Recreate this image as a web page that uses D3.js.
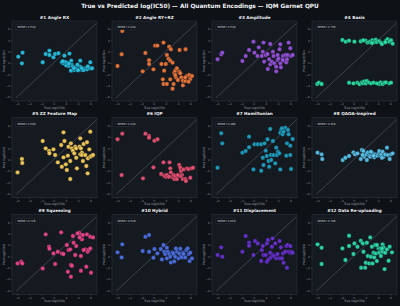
<!DOCTYPE html>
<html>
<head>
<meta charset="utf-8">
<script src="https://cdn.jsdelivr.net/npm/d3@7"></script>
<style>
  html, body { margin: 0; padding: 0; background: #0e1116; }
  svg { display: block; font-family: "DejaVu Sans", sans-serif; }
</style>
</head>
<body>
<svg id="chart" width="400" height="306"></svg>
<script>
// panel titles, colours and RMSE labels
const titles = ["#1 Angle RX", "#2 Angle RY+RZ", "#3 Amplitude", "#4 Basis",
  "#5 ZZ Feature Map", "#6 IQP", "#7 Hamiltonian", "#8 QAOA-inspired",
  "#9 Squeezing", "#10 Hybrid", "#11 Displacement", "#12 Data Re-uploading"];
const colors = ["#29c6e8", "#f27a3c", "#9b55e0", "#2ee6a8",
  "#fdd35c", "#ef5475", "#22a3c4", "#5cc8ef",
  "#f0468f", "#4f73e8", "#6d32d6", "#2fe0b0"];
const rmse = ["4.524", "4.004", "3.543", "4.755", "3.594", "4.200",
  "3.484", "3.354", "3.725", "3.519", "3.653", "3.795"];
const xTicks = [-6, -4, -2, 0, 2, 4, 6];
const yTicks = [-6, -4, -2, 0, 2, 4, 6];

// [true, predicted] log(IC50) per encoding
const p1 = [[-5.78,1.12],[-5.07,1.82],[-5.18,-0.06],[-1.78,0.12],[-1.29,1.59],[-0.68,2.18],[-0.68,1.41],[-0.02,1.0],
  [0.25,1.59],[0.8,1.71],[1.78,1.29],[2.6,1.65],[1.35,0.12],[1.62,-0.06],[2.17,0.06],[2.88,0.41],[2.99,-0.35],
  [3.16,-0.65],[3.54,-0.76],[3.38,-1.24],[3.7,-1.0],[4.36,0.41],[4.36,-0.65],[4.64,-1.24],[5.18,-0.94],[5.46,-1.12],
  [6.0,0.12],[5.9,-0.94],[6.28,-0.94],[4.9,-1.24],[4.09,-1.12],[2.44,-0.53],[2.06,-0.41],[2.83,-1.35],[3.9,-0.3],
  [1.9,0.2],[2.5,-0.1],[3.3,-0.9],[4.6,-0.9],[5.6,-0.6],[4.0,-1.3],[1.5,0.3]];
const p2 = [[-5.12,5.65],[-5.23,1.53],[-5.9,-0.53],[-1.78,-1.47],[-1.34,1.76],[-0.74,0.47],[-0.74,-0.18],[-0.02,-1.12],
  [0.25,3.06],[0.63,3.06],[1.62,3.59],[1.29,-0.18],[1.73,-1.35],[2.0,-0.18],[2.17,1.41],[2.55,2.88],[2.83,2.41],
  [2.44,0.76],[2.72,0.41],[3.1,0.06],[3.38,-1.71],[3.54,-1.35],[3.81,-0.94],[4.25,2.29],[5.23,2.41],[1.51,-2.88],
  [1.62,-3.7],[2.17,-3.7],[2.72,-2.88],[3.1,-4.53],[3.27,-3.7],[3.65,-2.53],[4.2,-1.53],[4.36,-1.82],[4.53,-2.53],
  [4.8,-3.12],[4.8,-3.94],[5.23,-3.18],[5.46,-2.29],[5.84,-2.12],[6.0,-2.82],[6.28,-2.29],[5.73,-3.29],[3.98,-3.0],
  [3.54,-2.12],[5.18,-2.53]];
const p3 = [[-5.89,0.65],[-5.29,1.53],[-5.12,1.82],[-1.83,0.35],[-1.29,1.24],[-0.74,2.29],[-0.02,3.76],[0.14,1.82],
  [0.63,1.24],[0.85,2.76],[1.35,1.24],[1.51,2.0],[1.62,3.59],[1.73,0.24],[2.0,1.41],[2.28,1.59],[2.55,0.65],[2.72,3.35],
  [2.72,-0.24],[2.99,0.24],[3.16,2.0],[3.27,1.24],[3.38,-0.06],[3.7,-0.65],[3.7,-1.47],[3.92,0.53],[4.09,0.82],
  [4.36,3.29],[4.25,2.41],[4.36,-0.06],[4.47,-0.76],[4.8,1.24],[4.91,0.41],[5.18,1.41],[5.35,0.12],[5.57,1.41],
  [5.73,3.59],[6.0,2.59],[6.12,1.24],[6.39,1.41],[2.33,-1.06],[4.75,0.53],[5.46,0.65],[3.92,1.41]];
const p4 = [[-1.83,4.06],[-1.29,3.76],[-0.74,3.94],[0.14,3.76],[1.18,3.82],[2.0,3.94],[2.28,3.59],[2.55,3.71],
  [2.83,3.82],[3.1,4.0],[3.38,3.71],[3.65,4.12],[3.81,3.71],[4.2,3.82],[4.47,3.59],[4.64,3.35],[5.29,3.94],[5.57,4.18],
  [5.84,3.76],[6.12,4.0],[6.39,3.41],[1.57,4.0],[3.0,3.53],[5.18,3.65],
  [-5.95,-3.71],[-5.67,-3.47],[-5.23,-3.71],[-0.74,-3.47],[-0.02,-3.59],[0.63,-3.47],[0.96,-3.71],[1.35,-3.41],
  [1.51,-3.59],[1.73,-3.24],[2.0,-3.59],[2.17,-3.18],[2.55,-3.47],[2.88,-3.59],[3.27,-3.47],[4.2,-3.71],[4.42,-3.41],
  [4.75,-3.71],[5.02,-3.47],[5.29,-3.41],[5.84,-3.59],[6.12,-3.47],[3.81,-3.59]];
const p5 = [[-5.89,-2.24],[-5.18,0.12],[-5.12,-0.59],[-1.78,3.29],[-1.29,2.0],[-0.74,1.53],[-0.68,1.12],[-0.02,1.82],
  [0.25,0.82],[0.69,-0.47],[1.24,2.59],[1.35,-1.24],[1.62,4.82],[1.62,0.41],[1.78,3.29],[2.0,-0.82],[2.17,-1.82],
  [2.33,0.71],[2.44,2.29],[2.72,-0.24],[2.72,-3.41],[2.83,2.88],[2.99,2.0],[3.16,1.59],[3.38,1.12],[3.54,2.29],
  [3.7,2.0],[3.7,0.35],[3.81,-1.53],[4.25,2.29],[4.36,3.76],[4.36,0.94],[4.47,2.0],[4.64,1.24],[4.64,0.82],[4.8,-0.24],
  [4.91,2.76],[5.18,0.82],[5.35,-1.12],[5.46,3.06],[5.57,-2.41],[5.62,0.24],[5.84,1.82],[6.0,0.53],[6.0,4.94],
  [6.17,0.65],[6.45,0.82]];
const p6 = [[-5.89,3.59],[-5.12,4.59],[-5.23,-2.71],[-1.34,4.59],[-0.74,4.18],[-0.74,3.88],[0.14,3.35],[0.63,3.59],
  [-1.73,-3.29],[-0.02,-1.35],[1.24,-2.53],[1.62,-0.47],[1.73,-2.82],[2.0,-3.0],[2.17,-2.71],[2.61,-0.47],[2.72,-1.53],
  [2.83,-2.24],[3.0,-3.0],[3.27,-2.71],[3.38,-3.41],[3.54,-2.88],[3.81,-3.41],[4.2,-0.94],[4.36,-1.41],[4.47,-2.0],
  [4.64,-2.71],[4.75,-3.41],[4.91,-1.71],[5.18,-3.41],[5.29,-3.76],[5.46,-1.53],[5.73,-1.65],[6.0,-3.18],[6.17,-1.53],
  [6.45,-1.41],[4.36,-2.88],[3.98,-2.71],[2.5,-3.0]];
const p7 = [[-5.89,-1.41],[-5.29,4.65],[-5.12,2.88],[-1.83,1.24],[-1.29,1.53],[-0.74,2.18],[-0.74,4.06],[-0.02,-1.71],
  [0.14,2.71],[0.69,2.71],[1.24,2.71],[1.24,-1.94],[1.51,0.35],[1.62,-0.94],[1.78,2.88],[2.0,1.59],[2.17,0.65],
  [2.28,3.59],[2.44,-0.24],[2.55,-1.24],[2.72,5.41],[2.83,0.82],[2.88,-0.06],[3.16,3.29],[3.27,0.82],[3.54,-0.65],
  [3.7,2.12],[3.81,0.82],[3.98,1.41],[4.2,1.12],[4.36,-1.71],[4.36,4.76],[4.53,5.24],[4.75,4.47],[4.91,4.94],
  [5.18,5.65],[5.35,0.71],[5.46,2.88],[5.62,5.24],[5.73,4.47],[6.0,2.47],[6.0,0.82],[6.12,-1.65],[6.39,3.65],[4.64,5.53]];
const p8 = [[-5.89,1.24],[-5.23,0.94],[-5.12,0.12],[-1.78,-0.06],[-1.34,0.35],[-0.74,0.65],[-0.02,1.29],[0.25,0.94],
  [0.63,1.12],[1.18,0.12],[1.35,1.71],[1.62,1.53],[1.73,0.53],[2.0,0.94],[2.17,-0.06],[2.33,1.29],[2.55,0.71],
  [2.72,0.53],[3.0,0.82],[3.16,1.12],[3.38,0.41],[3.54,0.94],[3.81,0.71],[4.09,1.12],[4.2,1.53],[4.36,0.71],
  [4.53,0.94],[4.75,1.41],[4.91,0.53],[5.18,0.94],[5.46,2.12],[5.62,0.82],[5.9,0.12],[6.12,0.94],[6.39,1.12],
  [2.83,1.41],[3.27,0.71],[4.64,0.35],[1.46,0.82]];
const p9 = [[-5.89,-1.24],[-5.29,-0.94],[-5.12,-1.24],[-1.78,-2.12],[-1.29,3.88],[-0.74,1.71],[-0.68,1.35],[-0.02,0.53],
  [0.25,-1.35],[0.69,0.82],[1.24,4.24],[1.35,0.53],[1.62,0.41],[2.17,2.0],[2.33,-2.71],[2.44,1.12],[2.72,1.24],
  [2.83,-1.53],[2.99,-1.65],[2.83,-3.59],[3.16,3.59],[3.27,2.41],[3.54,0.24],[3.7,1.82],[4.2,4.18],[4.36,3.88],
  [4.47,0.06],[4.47,-2.53],[4.64,3.0],[4.8,3.76],[5.18,1.24],[5.35,-1.82],[5.46,3.88],[5.57,0.82],[5.73,1.12],
  [6.0,1.41],[6.0,3.47],[6.12,-2.88],[6.45,3.35],[3.92,4.06],[4.25,3.35],[4.91,1.12]];
const p10 = [[-5.89,0.71],[-5.23,-0.18],[-5.12,2.12],[-1.34,3.47],[-0.74,3.76],[-1.78,0.94],[-0.74,0.82],[-0.02,-0.24],
  [0.14,1.29],[0.63,0.53],[1.18,1.29],[1.35,-0.53],[1.62,2.0],[1.73,0.82],[1.89,0.41],[2.17,1.53],[2.33,0.82],
  [2.55,0.41],[2.72,-0.06],[2.83,-1.06],[3.1,0.71],[3.27,0.41],[3.38,-0.88],[3.54,-0.06],[3.81,0.82],[4.09,-0.35],
  [4.2,0.53],[4.36,1.35],[4.47,0.06],[4.64,-0.18],[4.8,0.65],[4.91,0.41],[5.18,-0.18],[5.35,1.12],[5.57,1.41],
  [5.73,0.41],[5.9,-0.82],[6.0,0.65],[6.28,-0.35],[3.65,1.41],[2.17,-0.35]];
const p11 = [[-5.89,0.24],[-5.29,1.59],[-5.12,-0.06],[-1.83,0.82],[-1.29,3.59],[-0.74,2.41],[-0.74,1.88],[-0.02,0.24],
  [0.25,2.71],[0.69,2.29],[1.24,-0.82],[1.35,1.12],[1.51,1.82],[1.62,0.24],[2.0,0.24],[2.17,2.29],[2.17,-0.94],
  [2.33,2.88],[2.44,-0.53],[2.72,0.65],[2.83,-0.18],[2.99,1.71],[3.1,3.18],[3.16,0.24],[3.38,0.06],[3.54,2.29],
  [3.7,-0.35],[3.92,0.41],[4.09,-0.35],[4.25,2.71],[4.36,-0.35],[4.47,1.59],[4.64,-0.35],[4.8,0.53],[5.18,0.82],
  [5.35,1.82],[5.46,-2.0],[5.57,2.0],[5.73,0.82],[6.0,1.82],[6.0,0.65],[6.17,0.82],[6.39,0.65],[4.91,-1.12]];
const p12 = [[-5.89,2.12],[-5.23,1.53],[-5.23,-1.35],[-1.83,1.41],[-1.34,-0.65],[-0.74,3.65],[-0.74,1.82],[-0.02,0.41],
  [0.14,2.29],[0.63,1.71],[1.18,2.76],[1.24,-2.0],[1.51,2.29],[1.62,0.82],[1.89,-2.0],[2.0,-1.12],[2.17,2.41],
  [2.33,0.06],[2.55,-1.24],[2.72,3.35],[2.83,-0.06],[3.0,1.71],[3.1,-1.24],[3.27,0.65],[3.38,-0.18],[3.54,2.0],
  [3.65,0.53],[3.81,-0.82],[4.09,1.41],[4.2,0.65],[4.36,1.41],[4.47,0.06],[4.53,1.12],[4.75,2.12],[4.75,0.82],
  [4.91,1.59],[5.07,-2.24],[5.18,0.65],[5.46,1.24],[5.73,-0.76],[5.9,1.71],[6.28,0.71],[3.81,2.0],[4.64,1.41]];
const panels = [p1, p2, p3, p4, p5, p6, p7, p8, p9, p10, p11, p12];

const svg = d3.select("#chart");
const W = 400, H = 306;
svg.append("rect").attr("width", W).attr("height", H).attr("fill", "#0e1116");

// main title
svg.append("text")
  .attr("x", 200).attr("y", 7.8)
  .attr("text-anchor", "middle")
  .attr("font-size", 5.8).attr("font-weight", "bold")
  .attr("fill", "#f3f4f6")
  .text("True vs Predicted log(IC50) \u2014 All Quantum Encodings \u2014 IQM Garnet QPU");

const pw = 85, ph = 80;
const x = d3.scaleLinear().domain([-6.8, 7.1]).range([0, pw]);
const y = d3.scaleLinear().domain([-6.7, 7.4]).range([ph, 0]);
const diag = [-6.1, 7.0];

panels.forEach((pts, i) => {
  const col = i % 4, row = Math.floor(i / 4);
  const g = svg.append("g")
    .attr("transform", `translate(${12 + col * 100}, ${21 + row * 96.7})`);

  g.append("rect")
    .attr("width", pw).attr("height", ph)
    .attr("fill", "#151a21")
    .attr("stroke", "#2c323b").attr("stroke-width", 0.6);

  // subplot title
  g.append("text")
    .attr("x", pw / 2).attr("y", -2.5)
    .attr("text-anchor", "middle")
    .attr("font-size", 4.2).attr("font-weight", "bold")
    .attr("fill", "#eef0f3")
    .text(titles[i]);

  // axes
  const xa = g.append("g").attr("transform", `translate(0, ${ph})`)
    .call(d3.axisBottom(x).tickValues(xTicks).tickSize(1.2).tickPadding(1));
  const ya = g.append("g")
    .call(d3.axisLeft(y).tickValues(yTicks).tickSize(1.2).tickPadding(1));
  [xa, ya].forEach(a => {
    a.select(".domain").remove();
    a.selectAll("line").attr("stroke", "#6b7280").attr("stroke-width", 0.4);
    a.selectAll("text").attr("fill", "#8a919c").attr("font-size", 2.8)
      .attr("font-family", "DejaVu Sans, sans-serif");
  });

  g.append("text")
    .attr("x", pw / 2).attr("y", ph + 7.6)
    .attr("text-anchor", "middle")
    .attr("font-size", 3).attr("fill", "#a3aab4")
    .text("True log(IC50)");
  g.append("text")
    .attr("transform", `translate(-6.8, ${ph / 2}) rotate(-90)`)
    .attr("text-anchor", "middle")
    .attr("font-size", 3).attr("fill", "#a3aab4")
    .text("Pred log(IC50)");

  // identity line
  g.append("line")
    .attr("x1", x(diag[0])).attr("y1", y(diag[0]))
    .attr("x2", x(diag[1])).attr("y2", y(diag[1]))
    .attr("stroke", "#646b78").attr("stroke-width", 0.5);

  // points
  g.append("g").selectAll("circle")
    .data(pts)
    .join("circle")
    .attr("cx", d => x(d[0]))
    .attr("cy", d => y(d[1]))
    .attr("r", 2.2)
    .attr("fill", colors[i])
    .attr("fill-opacity", 0.92)
    .attr("stroke", "#0e1116").attr("stroke-width", 0.35);

  // RMSE box
  const lab = g.append("g").attr("transform", "translate(4, 4)");
  lab.append("rect")
    .attr("width", 18.5).attr("height", 4.8).attr("rx", 0.8)
    .attr("fill", "#0e1116").attr("stroke", "#3a404a").attr("stroke-width", 0.4);
  lab.append("text")
    .attr("x", 1.4).attr("y", 3.4)
    .attr("font-size", 2.8).attr("fill", "#d5d9df")
    .text("RMSE=" + rmse[i]);
});
</script>
</body>
</html>
